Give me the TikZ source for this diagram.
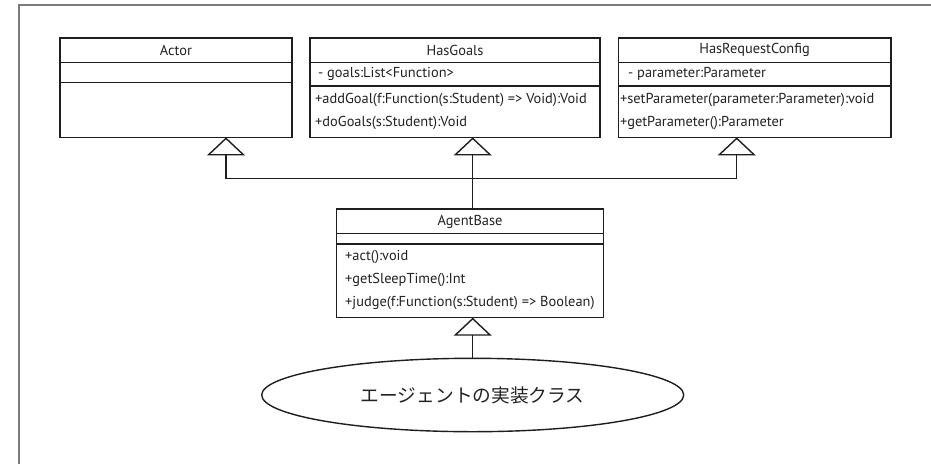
\documentclass[tikz,border=0pt]{standalone}
\usepackage{fontspec}
\setmainfont{PT Sans}
\newfontfamily\jpfont{Noto Sans CJK JP}
\usetikzlibrary{arrows.meta,shapes.geometric}

\definecolor{linec}{HTML}{1E1E1E}
\definecolor{framec}{HTML}{7A7A7A}
\definecolor{textc}{HTML}{222222}

\tikzset{
  classbox/.style={draw=linec, line width=1.4pt, inner sep=0pt, outer sep=0pt, anchor=north west},
  divider/.style={draw=linec, line width=1.4pt},
  member/.style={anchor=west, inner sep=0pt, text=textc, font=\fontsize{14.4}{16}\selectfont},
  classname/.style={anchor=center, inner sep=0pt, text=textc, font=\fontsize{14.4}{16}\selectfont},
  link/.style={draw=linec, line width=1.4pt},
  inherit/.style={link, -{Triangle[open, length=18pt, width=38pt]}},
}

\begin{document}
\begin{tikzpicture}[x=1pt, y=-1pt]
\useasboundingbox (0,0) rectangle (931,464);
\fill[white] (0,0) rectangle (931,464);
% frame edges
\draw[framec, line width=1.6pt] (931,4.7) -- (19,4.7) -- (19,464);

% Actor
\node[classbox, minimum width=232pt, minimum height=99.6pt] (actor) at (60,37.8) {};
\draw[divider] (60,62.7) -- (292,62.7);
\draw[divider] (60,82.7) -- (292,82.7);
\node[classname] (actorname) at (176,50.3) {Actor};

% HasGoals
\node[classbox, minimum width=290pt, minimum height=99.6pt] (goals) at (310,37.8) {};
\draw[divider] (310,62.5) -- (600,62.5);
\draw[divider] (310,86) -- (600,86);
\node[classname] (goalsname) at (455,50.3) {HasGoals};
\node[member] (goalsattr) at (318,74) {- goals:List<Function>};
\node[member] (goalsop1) at (315,99.5) {+addGoal(f:Function(s:Student) => Void):Void};
\node[member] (goalsop2) at (315,123) {+doGoals(s:Student):Void};

% HasRequestConfig
\node[classbox, minimum width=272.7pt, minimum height=99.6pt] (hrc) at (618.3,37.8) {};
\draw[divider] (618.3,62.5) -- (891,62.5);
\draw[divider] (618.3,86) -- (891,86);
\node[classname] (hrcname) at (754.6,50.3) {HasRequestConfig};
\node[member] (hrcattr) at (628,74) {- parameter:Parameter};
\node[member] (hrcop1) at (619.8,99.5) {+setParameter(parameter:Parameter):void};
\node[member] (hrcop2) at (619.8,123) {+getParameter():Parameter};

% AgentBase
\node[classbox, minimum width=266.6pt, minimum height=108.7pt] (agent) at (336.7,209) {};
\draw[divider] (336.7,233.7) -- (603.3,233.7);
\draw[divider] (336.7,244) -- (603.3,244);
\node[classname] (agentname) at (470,221.5) {AgentBase};
\node[member] (agentop1) at (345,256.7) {+act():void};
\node[member] (agentop2) at (345,280) {+getSleepTime():Int};
\node[member] (agentop3) at (345,303.3) {+judge(f:Function(s:Student) => Boolean)};

% implementation class
\node[draw=linec, line width=1.4pt, ellipse, inner sep=0pt, minimum width=422pt, minimum height=73.4pt,
      text=textc, font=\jpfont\fontsize{18.7}{22}\selectfont] (impl) at (472.7,395) {エージェントの実装クラス};

% generalisation links
\coordinate (jA) at (226,178.7);
\coordinate (jB) at (472.7,178.7);
\coordinate (jC) at (736.7,178.7);
\draw[link] (jA) -- (jC);
\draw[inherit] (jA) -- (jA |- actor.south);
\draw[inherit] (jC) -- (jC |- hrc.south);
\draw[inherit] (agent.north -| jB) -- (jB |- goals.south);
\draw[inherit] (impl.north) -- (impl.north |- agent.south);
\end{tikzpicture}
\end{document}
